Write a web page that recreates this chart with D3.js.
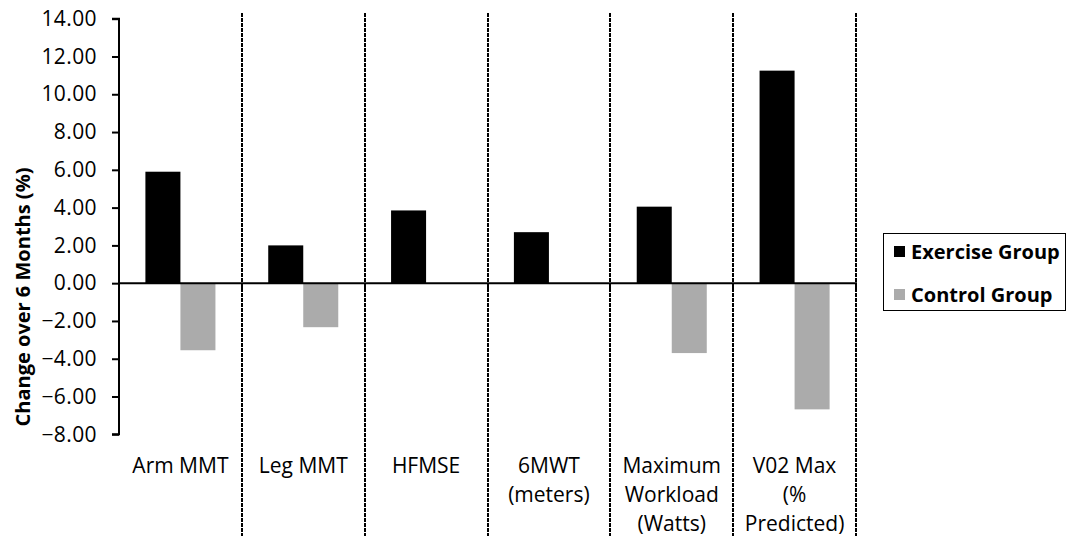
<!DOCTYPE html>
<html><head><meta charset="utf-8">
<script src="https://cdn.jsdelivr.net/npm/d3@7"></script>
<style>
html,body{margin:0;padding:0;background:#fff;}
svg{display:block;font-family:"Open Sans",sans-serif;}
</style></head>
<body><svg id="c" width="1067" height="537"></svg>
<script>
const categories = ["Arm MMT","Leg MMT","HFMSE","6MWT (meters)","Maximum Workload (Watts)","V02 Max (% Predicted)"];
const categoryLines = [["Arm MMT"],["Leg MMT"],["HFMSE"],["6MWT","(meters)"],["Maximum","Workload","(Watts)"],["V02 Max","(%","Predicted)"]];
const seriesNames = ["Exercise Group","Control Group"];
const exerciseValues = [5.9, 2.0, 3.85, 2.7, 4.05, 11.25];
const controlValues = [-3.55, -2.33, 0, 0, -3.7, -6.68];
const yTicks = [14,12,10,8,6,4,2,0,-2,-4,-6,-8];
const colors = ["#000000","#ababab"];

const svg = d3.select("#c");
const x0 = d3.scaleBand().domain(categories).range([119, 856]).paddingInner(0).paddingOuter(0);
const x1 = d3.scaleBand().domain(seriesNames).range([0, x0.bandwidth()]).paddingInner(0).paddingOuter(0.754);
const y = d3.scaleLinear().domain([-8, 14]).range([434.3, 18.7]);

const seriesVals = [exerciseValues, controlValues];

// separators
const bounds = categories.slice(1).map(c => Math.round(x0(c))).concat([Math.round(x0.range()[1])]);
svg.append("g").selectAll("line").data(bounds).join("line")
  .attr("x1", d => d).attr("x2", d => d).attr("y1", 13).attr("y2", 536)
  .attr("stroke", "#000").attr("stroke-width", 2).attr("stroke-dasharray", "4,1");

// bars
const g = svg.append("g");
seriesNames.forEach((s, si) => {
  g.selectAll(".b" + si).data(categories).join("rect")
    .attr("x", c => x0(c) + x1(s))
    .attr("width", x1.bandwidth())
    .attr("y", (c, i) => y(Math.max(0, seriesVals[si][i])))
    .attr("height", (c, i) => Math.abs(y(seriesVals[si][i]) - y(0)))
    .attr("fill", colors[si]);
});

// y axis
const yAxis = svg.append("g").attr("transform", "translate(119,0)")
  .call(d3.axisLeft(y).tickValues(yTicks).tickFormat(d3.format(".2f")).tickSize(7).tickPadding(15));
yAxis.select(".domain").attr("stroke-width", 2).attr("d", `M-7,${y(14)}H0V${y(-8)}H-7`);
yAxis.selectAll(".tick line").attr("stroke-width", 2);
yAxis.selectAll(".tick text").attr("font-size", 21).attr("fill", "#000")
  .attr("font-family", "Open Sans").attr("letter-spacing", 0.4);

// zero line with category-boundary ticks
svg.append("line").attr("x1", 119).attr("x2", 857).attr("y1", y(0)).attr("y2", y(0))
  .attr("stroke", "#000").attr("stroke-width", 2);
svg.append("g").selectAll("line").data(bounds).join("line")
  .attr("x1", d => d).attr("x2", d => d).attr("y1", y(0)).attr("y2", y(0) + 7)
  .attr("stroke", "#000").attr("stroke-width", 2);

// category labels
const lbl = svg.append("g").attr("font-size", 21).attr("fill", "#000").attr("text-anchor", "middle");
categories.forEach((c, i) => {
  const cx = x0(c) + x0.bandwidth() / 2;
  const t = lbl.append("text").attr("x", cx).attr("y", 473);
  categoryLines[i].forEach((ln, j) => {
    t.append("tspan").attr("x", cx).attr("dy", j === 0 ? 0 : 29).text(ln);
  });
});

// y title
svg.append("text").attr("transform", "translate(30,297) rotate(-90)")
  .attr("text-anchor", "middle").attr("font-size", 20).attr("font-weight", "bold")
  .text("Change over 6 Months (%)");

// legend
const lg = svg.append("g");
lg.append("rect").attr("x", 883.5).attr("y", 233.5).attr("width", 182).attr("height", 77)
  .attr("fill", "none").attr("stroke", "#000").attr("stroke-width", 1);
seriesNames.forEach((s, i) => {
  const cy = 251.5 + i * 43;
  lg.append("rect").attr("x", 894).attr("y", cy - 5.5).attr("width", 11).attr("height", 11).attr("fill", colors[i]);
  lg.append("text").attr("x", 911).attr("y", cy + 7).attr("font-size", 20).attr("font-weight", "bold").text(s);
});
</script></body></html>
